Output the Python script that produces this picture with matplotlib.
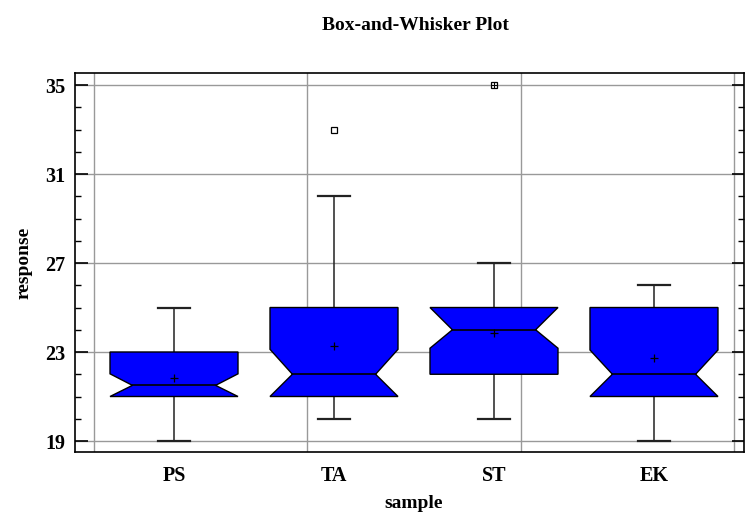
import matplotlib.pyplot as plt
from matplotlib.ticker import MultipleLocator

samples = ['PS', 'TA', 'ST', 'EK']
q1 = [21.0, 21.0, 22.0, 21.0]
median = [21.5, 22.0, 24.0, 22.0]
q3 = [23.0, 25.0, 25.0, 25.0]
whisker_lo = [19.0, 20.0, 20.0, 19.0]
whisker_hi = [25.0, 30.0, 27.0, 26.0]
means = [21.82, 23.28, 23.84, 22.73]
# notch limits, already cut back to the box
notch_lo = [21.0, 21.0, 23.17, 21.0]
notch_hi = [22.02, 23.12, 25.0, 23.09]
outliers = {1: [33.0], 2: [35.0]}
far_out = {2: [35.0]}

plt.rcParams['font.family'] = ['Liberation Serif', 'DejaVu Serif']
plt.rcParams['font.weight'] = 'bold'

fig = plt.figure(figsize=(7.46, 5.12), dpi=100)
ax = fig.add_axes([0.1005, 0.1172, 0.8968, 0.7402])

hw = 0.4    # half box width
nw = 0.26   # half width at the notch waist
cw = 0.1    # half cap width
for i in range(len(samples)):
    p = i + 1
    xs = [p - hw, p + hw, p + hw, p + nw, p + hw, p + hw, p - hw, p - hw, p - nw, p - hw]
    ys = [q1[i], q1[i], notch_lo[i], median[i], notch_hi[i], q3[i], q3[i], notch_hi[i], median[i], notch_lo[i]]
    ax.fill(xs, ys, facecolor='#0000ff', edgecolor='black', lw=1.0, zorder=3)
    ax.plot([p - nw, p + nw], [median[i], median[i]], color='black', lw=1.2, zorder=4)
    # whiskers and caps
    ax.plot([p, p], [q3[i], whisker_hi[i]], color='#222222', lw=1.1, zorder=2)
    ax.plot([p, p], [q1[i], whisker_lo[i]], color='#222222', lw=1.1, zorder=2)
    ax.plot([p - cw, p + cw], [whisker_hi[i]] * 2, color='#222222', lw=1.6, zorder=2)
    ax.plot([p - cw, p + cw], [whisker_lo[i]] * 2, color='#222222', lw=1.6, zorder=2)
    ax.plot(p, means[i], marker='+', color='black', ms=6, mew=0.9, zorder=5)
    for v in outliers.get(i, []):
        ax.plot(p, v, marker='s', ms=5, mfc='white', mec='black', mew=0.9, zorder=5)
    for v in far_out.get(i, []):
        ax.plot(p, v, marker='+', ms=5, color='black', mew=0.8, zorder=6)

ax.set_xlim(0.381, 4.5625)
ax.set_ylim(18.506, 35.54)

ax.set_yticks([19, 23, 27, 31, 35])
ax.yaxis.set_minor_locator(MultipleLocator(1))
ax.set_xticks(range(1, len(samples) + 1))
ax.set_xticklabels(samples)
ax.set_xticks([0.5, 1.8333, 3.1667, 4.5], minor=True)

ax.tick_params(axis='y', which='major', direction='in', length=9, width=1.2,
               right=True, labelsize=14.5, pad=7)
ax.tick_params(axis='y', which='minor', direction='in', length=4.5, width=1.0, right=True)
ax.tick_params(axis='x', which='both', length=0, labelsize=14.5, pad=10)

ax.grid(True, axis='y', which='major', color='#999999', lw=1.0, zorder=0)
ax.grid(True, axis='x', which='minor', color='#999999', lw=1.0, zorder=0)
ax.set_axisbelow(True)
for s in ax.spines.values():
    s.set_linewidth(1.2)

ax.set_ylabel('response', fontsize=14, fontweight='bold', labelpad=9)
fig.text(414 / 746, 1 - 503 / 512, 'sample', ha='center', va='center',
         fontsize=14, fontweight='bold')
fig.text(415 / 746, 1 - 25 / 512, 'Box-and-Whisker Plot', ha='center', va='center',
         fontsize=14, fontweight='bold')

fig.savefig('out.png', dpi=100)
